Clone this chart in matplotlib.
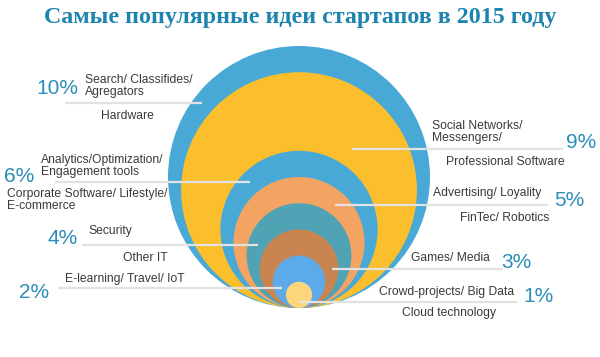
"""Nested circles: most popular startup ideas in 2015"""

import matplotlib
matplotlib.use('Agg')
import matplotlib.pyplot as plt
from matplotlib.patches import Circle

# data
pcts = [10, 9, 6, 5, 4, 3, 2, 1]
pct_labels = ['10%', '9%', '6%', '5%', '4%', '3%', '2%', '1%']
top_labels = ['Search/ Classifides/\nAgregators', 'Social Networks/\nMessengers/',
              'Analytics/Optimization/\nEngagement tools', 'Advertising/ Loyality',
              'Security', 'Games/ Media', 'E-learning/ Travel/ IoT',
              'Crowd-projects/ Big Data']
bottom_labels = ['Hardware', 'Professional Software',
                 'Corporate Software/ Lifestyle/\nE-commerce', 'FinTec/ Robotics',
                 'Other IT', '', '', 'Cloud technology']
title = 'Самые популярные идеи стартапов в 2015 году'

# styles / layout
colors = ['#48A9D6', '#FBBF2D', '#48A9D6', '#F4A462', '#4FA3B5',
          '#C9844F', '#5DAAEA', '#FDD67A']
px_per_pct = 13.1
cx, bottom = 299, 308
line_y = [103, 149, 182, 205, 245, 269, 288, 302]
line_x = [(65, 202), (352, 563), (55, 250), (335, 548),
          (82, 258), (332, 503), (58, 282), (299, 517)]
# (x, y) for pct, (x, y, ha) for top / bottom label
pct_pos = [(36, 88), (566, 142), (4, 177), (554, 200),
           (47, 238), (501, 262), (19, 293), (523, 297)]
top_pos = [(85, 86, 'left'), (432, 132, 'left'), (41, 166, 'left'), (433, 193, 'left'),
           (88, 231, 'left'), (411, 258, 'left'), (65, 279, 'left'), (379, 292, 'left')]
bot_pos = [(127, 116, 'center'), (446, 162, 'left'), (7, 200, 'left'), (460, 218, 'left'),
           (123, 258, 'left'), (0, 0, 'left'), (0, 0, 'left'), (402, 313, 'left')]

sans = ['Liberation Sans', 'DejaVu Sans']
pct_color = '#2A8DB8'
txt_color = '#3A3A3A'

fig = plt.figure(figsize=(6, 3.57), dpi=100)
ax = fig.add_axes([0, 0, 1, 1])
ax.set_xlim(0, 600)
ax.set_ylim(357, 0)
ax.set_aspect('equal')
ax.axis('off')

for p, c in zip(pcts, colors):
    r = p * px_per_pct
    ax.add_patch(Circle((cx, bottom - r), r, facecolor=c, edgecolor='none', zorder=1))

for y, (x0, x1) in zip(line_y, line_x):
    ax.plot([x0, x1], [y, y], color='#E2E2E2', lw=1.6, zorder=2, solid_capstyle='butt')

for i in range(len(pcts)):
    x, y = pct_pos[i]
    ax.text(x, y, pct_labels[i], ha='left', va='center', fontsize=15,
            color=pct_color, family=sans, zorder=3)
    x, y, ha = top_pos[i]
    ax.text(x, y, top_labels[i], ha=ha, va='center', fontsize=8.7,
            color=txt_color, family=sans, linespacing=1.05, zorder=3)
    if bottom_labels[i]:
        x, y, ha = bot_pos[i]
        ax.text(x, y, bottom_labels[i], ha=ha, va='center', fontsize=8.7,
                color=txt_color, family=sans, linespacing=1.05, zorder=3)

ax.text(300, 18, title, ha='center', va='center', fontsize=17.3, fontweight='bold',
        color='#1C84AE', family=['Liberation Serif', 'DejaVu Serif'])

fig.savefig('out.png', dpi=100)
